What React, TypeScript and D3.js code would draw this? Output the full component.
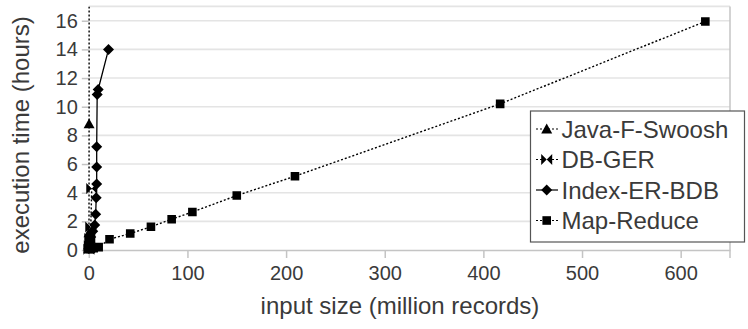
import React, { useEffect, useRef } from "react";
import * as d3 from "d3";

// series values (x: million records, y: hours)
const javaX = [0.05, 0.1, 0.2, 0.3, 0.4];
const javaY = [0.1, 0.35, 1.2, 8.8, 40];

const dbgerX = [0.1, 0.5, 1, 2, 3];
const dbgerY = [0.05, 0.3, 0.8, 1.6, 4.3];

const indexX = [0.1, 0.5, 1, 2, 4, 6, 7, 7.5, 8, 8, 8, 8.5, 9.5, 20];
const indexY = [0.1, 0.3, 0.5, 0.9, 1.3, 1.75, 2.5, 3.65, 4.6, 5.8, 7.2, 10.85, 11.2, 14.0];

const mrX = [0.3, 2, 5, 10, 21, 42, 63, 84, 105, 150, 209, 417, 625];
const mrY = [0.05, 0.08, 0.12, 0.2, 0.75, 1.15, 1.62, 2.15, 2.65, 3.8, 5.15, 10.2, 15.95];

const seriesNames = ["Java-F-Swoosh", "DB-GER", "Index-ER-BDB", "Map-Reduce"];
const xTicks = [0, 100, 200, 300, 400, 500, 600];
const yTicks = [0, 2, 4, 6, 8, 10, 12, 14, 16];

const W = 748;
const H = 329;
const font = "'Liberation Sans', Arial, sans-serif";
const textColor = "#3a3a3a";

const marker = (kind: string, s: number) => {
  if (kind === "tri") return `M0,${-s}L${s},${s * 0.8}L${-s},${s * 0.8}Z`;
  if (kind === "bow") return `M${-s},${-s}L0,0L${-s},${s}ZM${s},${-s}L0,0L${s},${s}Z`;
  if (kind === "dia") return `M0,${-s}L${s},0L0,${s}L${-s},0Z`;
  return `M${-s},${-s}L${s},${-s}L${s},${s}L${-s},${s}Z`;
};

const series = [
  { name: seriesNames[0], xs: javaX, ys: javaY, kind: "tri", size: 5.5, dash: "2,2" },
  { name: seriesNames[1], xs: dbgerX, ys: dbgerY, kind: "bow", size: 5.5, dash: "2,2" },
  { name: seriesNames[2], xs: indexX, ys: indexY, kind: "dia", size: 5.5, dash: null },
  { name: seriesNames[3], xs: mrX, ys: mrY, kind: "sq", size: 4.3, dash: "2,2" },
];

export default function App() {
  const ref = useRef<SVGSVGElement>(null);

  useEffect(() => {
    const svg = d3.select(ref.current);
    svg.selectAll("*").remove();

    const x = d3.scaleLinear().domain([0, 650]).range([88.8, 730]);
    const y = d3.scaleLinear().domain([0, 17]).range([250, 6.4]);

    // gridlines
    svg
      .append("g")
      .selectAll("line")
      .data(yTicks.slice(1).concat([17]))
      .join("line")
      .attr("x1", x(0))
      .attr("x2", x(650))
      .attr("y1", (d) => y(d))
      .attr("y2", (d) => y(d))
      .attr("stroke", "#e4e4e4")
      .attr("stroke-width", 1.6);

    // right border
    svg
      .append("line")
      .attr("x1", x(650))
      .attr("x2", x(650))
      .attr("y1", y(17))
      .attr("y2", y(0) + 8)
      .attr("stroke", "#c4c4c4")
      .attr("stroke-width", 1.5);

    // x axis
    const xAxis = svg
      .append("g")
      .attr("transform", `translate(0,${y(0)})`)
      .call(d3.axisBottom(x).tickValues(xTicks).tickSize(8).tickSizeOuter(0).tickPadding(8));
    xAxis.select(".domain").attr("stroke", "#c4c4c4").attr("stroke-width", 1.6);
    xAxis.selectAll(".tick line").attr("stroke", "#c4c4c4").attr("stroke-width", 1.5);
    xAxis
      .selectAll(".tick text")
      .attr("fill", textColor)
      .style("font-family", font)
      .style("font-size", "20px");

    // y axis
    const yAxis = svg
      .append("g")
      .attr("transform", `translate(${x(0)},0)`)
      .call(d3.axisLeft(y).tickValues(yTicks).tickSize(7).tickSizeOuter(0).tickPadding(4));
    yAxis.select(".domain").remove();
    yAxis.selectAll(".tick line").attr("stroke", "#c4c4c4").attr("stroke-width", 1.5);
    yAxis
      .selectAll(".tick text")
      .attr("fill", textColor)
      .style("font-family", font)
      .style("font-size", "20px");

    // titles
    svg
      .append("text")
      .attr("x", 400)
      .attr("y", 314)
      .attr("text-anchor", "middle")
      .attr("fill", textColor)
      .style("font-family", font)
      .style("font-size", "24px")
      .text("input size (million records)");

    svg
      .append("text")
      .attr("transform", `translate(29,135) rotate(-90)`)
      .attr("text-anchor", "middle")
      .attr("fill", textColor)
      .style("font-family", font)
      .style("font-size", "24px")
      .text("execution time (hours)");

    // clip so the runaway series stops at the top of the plot
    svg
      .append("clipPath")
      .attr("id", "plotclip")
      .append("rect")
      .attr("x", 0)
      .attr("y", y(17))
      .attr("width", W)
      .attr("height", H);

    const plot = svg.append("g").attr("clip-path", "url(#plotclip)");

    series.forEach((s) => {
      const pts = s.xs.map((v, i) => [x(v), y(s.ys[i])] as [number, number]);
      plot
        .append("path")
        .attr("d", d3.line()(pts))
        .attr("fill", "none")
        .attr("stroke", "#000")
        .attr("stroke-width", s.dash ? 1.4 : 1.3)
        .attr("stroke-dasharray", s.dash);
      plot
        .append("g")
        .selectAll("path")
        .data(pts)
        .join("path")
        .attr("transform", (d) => `translate(${d[0]},${d[1]})`)
        .attr("d", marker(s.kind, s.size))
        .attr("fill", "#000");
    });

    // legend
    const lg = svg.append("g");
    lg.append("rect")
      .attr("x", 530.5)
      .attr("y", 111)
      .attr("width", 214)
      .attr("height", 131)
      .attr("fill", "#fff")
      .attr("stroke", "#555")
      .attr("stroke-width", 1.2);

    series.forEach((s, i) => {
      const cy = 129 + i * 30.5;
      lg.append("line")
        .attr("x1", 536)
        .attr("x2", 558)
        .attr("y1", cy)
        .attr("y2", cy)
        .attr("stroke", "#000")
        .attr("stroke-width", 1.2)
        .attr("stroke-dasharray", s.dash);
      lg.append("path")
        .attr("transform", `translate(546.7,${cy})`)
        .attr("d", marker(s.kind, s.size))
        .attr("fill", "#000");
      lg.append("text")
        .attr("x", 561.5)
        .attr("y", cy)
        .attr("dy", "0.36em")
        .attr("fill", textColor)
        .style("font-family", font)
        .style("font-size", "24px")
        .text(s.name);
    });
  }, []);

  return <svg ref={ref} width={W} height={H} style={{ position: "absolute", left: 0, top: 0 }} />;
}
